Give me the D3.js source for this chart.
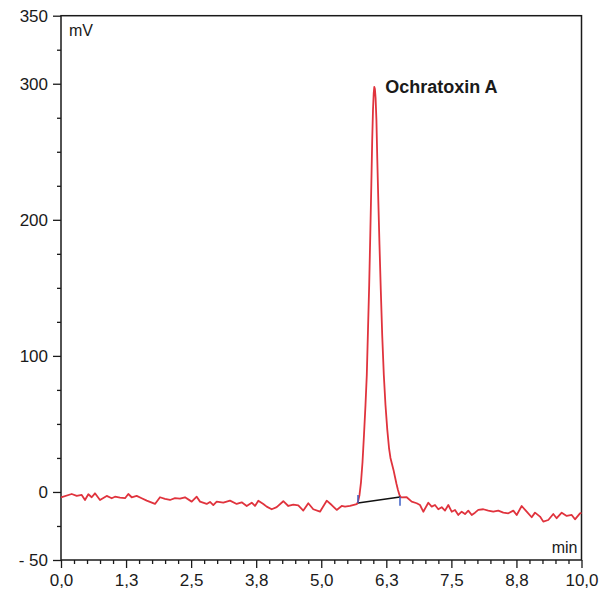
<!DOCTYPE html>
<html>
<head>
<meta charset="utf-8">
<script src="https://cdn.jsdelivr.net/npm/d3@7"></script>
<style>
  html, body { margin: 0; padding: 0; background: #fff; }
</style>
</head>
<body>
<div id="chromatogram"></div>
<script>
// retention time (min) and detector signal (mV)
const times = [
  0.000, 0.206, 0.302, 0.398, 0.461, 0.525, 0.590, 0.653, 0.749, 0.878,
  0.974, 1.037, 1.134, 1.230, 1.293, 1.358, 1.454, 1.550, 1.647, 1.806,
  1.902, 1.998, 2.094, 2.190, 2.286, 2.382, 2.511, 2.607, 2.671, 2.799,
  2.863, 2.926, 2.991, 3.118, 3.247, 3.376, 3.472, 3.568, 3.664, 3.727,
  3.791, 3.887, 3.952, 4.048, 4.144, 4.271, 4.367, 4.463, 4.559, 4.655,
  4.751, 4.847, 4.976, 5.105, 5.201, 5.297, 5.393, 5.456, 5.552, 5.681,
  5.706, 5.735, 5.764, 5.793, 5.821, 5.850, 5.875, 5.898, 5.921, 5.942,
  5.962, 5.979, 5.994, 6.008, 6.019, 6.031, 6.044, 6.060, 6.077, 6.096,
  6.119, 6.144, 6.171, 6.202, 6.234, 6.269, 6.302, 6.330, 6.359, 6.388,
  6.417, 6.446, 6.474, 6.503, 6.532, 6.642, 6.738, 6.834, 6.897, 6.961,
  7.057, 7.122, 7.185, 7.249, 7.314, 7.378, 7.441, 7.506, 7.570, 7.633,
  7.698, 7.762, 7.825, 7.891, 7.954, 8.017, 8.113, 8.209, 8.305, 8.401,
  8.498, 8.594, 8.690, 8.755, 8.851, 8.947, 9.043, 9.107, 9.203, 9.266,
  9.362, 9.458, 9.523, 9.620, 9.716, 9.812, 9.875, 9.971, 10.000
];
const signal = [
  -3.9, -1.5, -2.9, -2.2, -5.9, -1.7, -3.9, -1.0, -5.9, -2.9,
  -4.6, -3.5, -4.2, -4.6, -1.5, -3.9, -2.9, -4.6, -6.4, -8.8,
  -3.9, -5.1, -5.9, -4.6, -4.9, -3.9, -7.1, -3.5, -7.1, -8.8,
  -7.3, -9.6, -7.1, -7.9, -6.4, -8.8, -7.6, -10.3, -7.9, -10.3,
  -6.4, -8.8, -10.8, -12.7, -11.2, -6.8, -10.3, -9.3, -9.8, -13.7,
  -8.3, -12.7, -14.5, -6.4, -9.6, -13.2, -10.3, -10.8, -10.3, -9.0,
  -7.3, -2.2, 7.3, 22.0, 41.9, 63.9, 86.0, 119.0, 152.1, 188.8,
  225.6, 258.6, 280.7, 293.2, 297.6, 296.1, 289.5, 273.3, 243.9, 214.5,
  181.5, 148.4, 115.4, 86.0, 63.9, 45.6, 32.3, 25.0, 20.6, 16.2,
  11.0, 5.9, 1.5, -2.2, -4.0, -3.9, -7.1, -8.3, -9.6, -14.5,
  -7.9, -10.8, -9.6, -12.7, -11.2, -13.7, -9.6, -14.5, -13.2, -16.9,
  -14.5, -16.2, -13.7, -16.9, -15.2, -13.2, -12.7, -13.7, -14.5, -13.7,
  -15.2, -15.7, -13.7, -16.9, -10.3, -14.5, -18.6, -15.2, -18.1, -21.8,
  -20.6, -16.2, -19.3, -15.2, -17.6, -16.9, -20.1, -15.7, -15.4
];

// integration baseline under the peak and its start / end marks
const baseT = [5.706, 6.513];
const baseV = [-8.1, -3.7];
const markT = [5.706, 6.513];
const markTop = [-2.2, -3.7];
const markBottom = [-8.1, -10.1];

const peakName = "Ochratoxin A";
const peakLabelPos = [6.23, 293];

// axis ticks
const yMajor = [350, 300, 200, 100, 0, -50];
const yLabels = ["350", "300", "200", "100", "0", "- 50"];
const yMinor = [325, 275, 250, 225, 175, 150, 125, 75, 50, 25, -25];
const xMajor = [0, 1.25, 2.5, 3.75, 5, 6.25, 7.5, 8.75, 10];
const xLabels = ["0,0", "1,3", "2,5", "3,8", "5,0", "6,3", "7,5", "8,8", "10,0"];
const xMinor = d3.range(0, 10.001, 0.25).filter(d => xMajor.indexOf(d) < 0);

/**************************************************************************************************/
const width = 614, height = 595;
const x = d3.scaleLinear([0, 10], [61, 581.5]);
const y = d3.scaleLinear([-50, 350], [560, 15.7]);
const ink = "#1a1a1a";
const font = "'Liberation Sans', Arial, Helvetica, sans-serif";

const svg = d3.create("svg")
  .attr("width", width)
  .attr("height", height)
  .attr("viewBox", [0, 0, width, height])
  .style("display", "block")
  .style("background", "#fff")
  .attr("font-family", font);
/**************************************************************************************************/

/**************************************************************************************************/
// y axis: major + minor ticks
svg.append("g")
  .attr("transform", `translate(${x(0)},0)`)
  .call(d3.axisLeft(y).tickValues(yMajor).tickSize(8).tickPadding(5)
    .tickFormat((d, i) => yLabels[i]));
svg.append("g")
  .attr("transform", `translate(${x(0)},0)`)
  .call(d3.axisLeft(y).tickValues(yMinor).tickSize(4).tickFormat(""));

// x axis: major + minor ticks
svg.append("g")
  .attr("transform", `translate(0,${y(-50)})`)
  .call(d3.axisBottom(x).tickValues(xMajor).tickSize(8).tickPadding(6)
    .tickFormat((d, i) => xLabels[i]));
svg.append("g")
  .attr("transform", `translate(0,${y(-50)})`)
  .call(d3.axisBottom(x).tickValues(xMinor).tickSize(4).tickFormat(""));

svg.selectAll(".domain").remove();
svg.selectAll(".tick line").attr("stroke", ink).attr("stroke-width", 1.3);
svg.selectAll(".tick text")
  .attr("fill", ink)
  .style("font-size", "17px")
  .style("font-family", font);

// frame
svg.append("rect")
  .attr("x", x(0))
  .attr("y", y(350))
  .attr("width", x(10) - x(0))
  .attr("height", y(-50) - y(350))
  .attr("fill", "none")
  .attr("stroke", ink)
  .attr("stroke-width", 1.5);
/**************************************************************************************************/

/**************************************************************************************************/
// signal trace
const line = d3.line()
  .x(d => x(d[0]))
  .y(d => y(d[1]));

svg.append("path")
  .datum(times.map((t, i) => [t, signal[i]]))
  .attr("d", line)
  .attr("fill", "none")
  .attr("stroke", "#e0333d")
  .attr("stroke-width", 1.8)
  .attr("stroke-linejoin", "round");

// baseline under peak
svg.append("path")
  .datum(baseT.map((t, i) => [t, baseV[i]]))
  .attr("d", line)
  .attr("stroke", "#111")
  .attr("stroke-width", 1.4);

svg.append("g")
  .selectAll("line")
  .data(markT)
  .join("line")
  .attr("x1", d => x(d))
  .attr("x2", d => x(d))
  .attr("y1", (d, i) => y(markTop[i]))
  .attr("y2", (d, i) => y(markBottom[i]))
  .attr("stroke", "#3d5fc6")
  .attr("stroke-width", 1.5);
/**************************************************************************************************/

/**************************************************************************************************/
// labels
svg.append("text")
  .attr("x", x(peakLabelPos[0]))
  .attr("y", y(peakLabelPos[1]))
  .attr("font-weight", "bold")
  .attr("font-size", 18)
  .attr("fill", ink)
  .text(peakName);

svg.append("text")
  .attr("x", x(0) + 8)
  .attr("y", 36)
  .attr("font-size", 16)
  .attr("fill", ink)
  .text("mV");

svg.append("text")
  .attr("x", x(10) - 4)
  .attr("y", 553)
  .attr("text-anchor", "end")
  .attr("font-size", 16)
  .attr("fill", ink)
  .text("min");
/**************************************************************************************************/

document.getElementById("chromatogram").appendChild(svg.node());
</script>
</body>
</html>
